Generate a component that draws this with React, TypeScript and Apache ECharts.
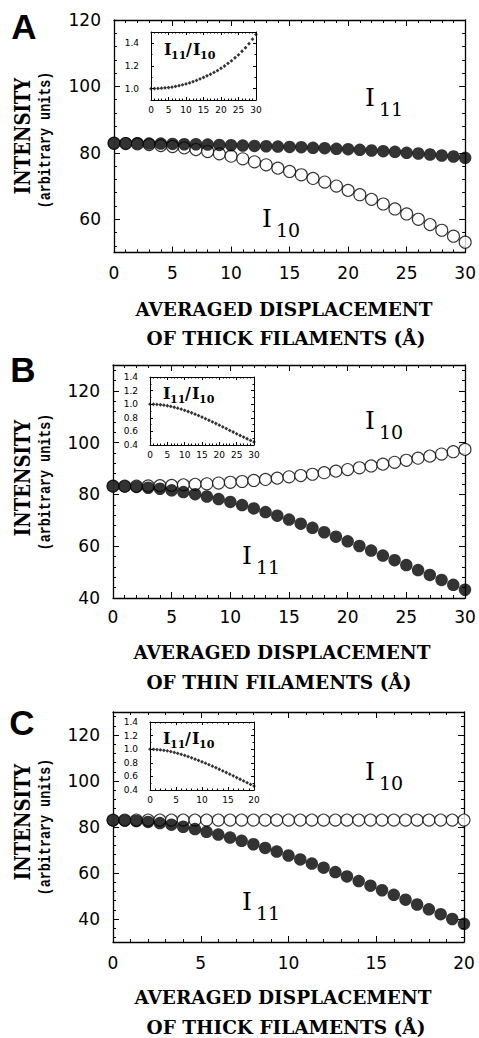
import React, { useEffect, useRef } from "react";
import * as echarts from "echarts";

// ---------- data ----------
const xThirty = [0, 1, 2, 3, 4, 5, 6, 7, 8, 9, 10, 11, 12, 13, 14, 15, 16, 17, 18, 19, 20, 21, 22, 23, 24, 25, 26, 27, 28, 29, 30];
const xTwenty = [0, 0.67, 1.33, 2, 2.67, 3.33, 4, 4.67, 5.33, 6, 6.67, 7.33, 8, 8.67, 9.33, 10, 10.67, 11.33, 12, 12.67, 13.33, 14, 14.67, 15.33, 16, 16.67, 17.33, 18, 18.67, 19.33, 20];

// Panel A: thick filament displacement
const aI11 = [82.9, 82.9, 82.9, 82.8, 82.8, 82.7, 82.6, 82.6, 82.5, 82.4, 82.3, 82.2, 82.1, 82.0, 81.9, 81.8, 81.7, 81.5, 81.4, 81.2, 81.1, 80.9, 80.7, 80.5, 80.3, 80.0, 79.8, 79.5, 79.2, 78.9, 78.5];
const aI10 = [82.9, 82.8, 82.7, 82.5, 82.2, 81.9, 81.5, 81.0, 80.4, 79.7, 79.0, 78.2, 77.3, 76.4, 75.4, 74.4, 73.4, 72.3, 71.2, 70.0, 68.7, 67.4, 66.0, 64.6, 63.1, 61.6, 60.0, 58.4, 56.7, 54.9, 53.1];
const aRatio = [1.0, 1.001, 1.002, 1.004, 1.007, 1.01, 1.013, 1.02, 1.026, 1.034, 1.042, 1.051, 1.062, 1.073, 1.086, 1.099, 1.113, 1.127, 1.143, 1.16, 1.18, 1.2, 1.223, 1.246, 1.273, 1.299, 1.33, 1.361, 1.397, 1.437, 1.478];

// Panel B: thin filament displacement
const bI11 = [83.2, 83.1, 82.9, 82.6, 82.2, 81.6, 80.9, 80.1, 79.2, 78.2, 77.1, 75.9, 74.6, 73.2, 71.8, 70.3, 68.7, 67.1, 65.4, 63.7, 61.9, 60.1, 58.3, 56.4, 54.6, 52.7, 50.8, 48.9, 47.0, 45.1, 43.2];
const bI10 = [83.2, 83.2, 83.2, 83.3, 83.4, 83.5, 83.7, 83.9, 84.1, 84.4, 84.7, 85.0, 85.4, 85.8, 86.3, 86.8, 87.3, 87.8, 88.4, 89.0, 89.6, 90.3, 91.0, 91.7, 92.4, 93.2, 94.0, 94.8, 95.6, 96.5, 97.4];
const bRatio = [1.0, 0.999, 0.996, 0.992, 0.986, 0.977, 0.967, 0.955, 0.942, 0.927, 0.91, 0.893, 0.874, 0.853, 0.832, 0.81, 0.787, 0.764, 0.74, 0.716, 0.691, 0.666, 0.641, 0.615, 0.591, 0.565, 0.54, 0.516, 0.492, 0.467, 0.444];

// Panel C: thick filament displacement (0-20)
const cI11 = [82.9, 82.8, 82.6, 82.2, 81.7, 81.0, 80.1, 79.1, 77.9, 76.7, 75.4, 74.0, 72.5, 70.9, 69.3, 67.6, 65.9, 64.1, 62.3, 60.4, 58.5, 56.5, 54.5, 52.5, 50.5, 48.4, 46.3, 44.2, 42.1, 40.0, 37.9];
const cI10 = [83.0, 83.0, 83.0, 83.0, 83.0, 83.0, 83.0, 83.0, 83.0, 83.0, 83.0, 83.0, 83.0, 83.0, 83.0, 83.0, 83.0, 83.0, 83.0, 83.0, 83.0, 83.0, 83.0, 83.0, 83.0, 83.0, 83.0, 83.0, 83.0, 83.0, 83.0];
const cRatio = [1.0, 0.998, 0.995, 0.99, 0.984, 0.976, 0.965, 0.953, 0.939, 0.924, 0.908, 0.892, 0.873, 0.854, 0.835, 0.814, 0.794, 0.772, 0.751, 0.728, 0.705, 0.681, 0.657, 0.633, 0.608, 0.583, 0.558, 0.533, 0.507, 0.482, 0.457];

// tick values
const yMajorA = [60, 80, 100, 120];
const yMinorA = [52, 56, 64, 68, 72, 76, 84, 88, 92, 96, 104, 108, 112, 116];
const yMajorBC = [40, 60, 80, 100, 120];
const yMinorB = [44, 48, 52, 56, 64, 68, 72, 76, 84, 88, 92, 96, 104, 108, 112, 116, 124, 128];
const yMinorC = [32, 36, 44, 48, 52, 56, 64, 68, 72, 76, 84, 88, 92, 96, 104, 108, 112, 116, 124, 128];
const insetMajorA = [1.0, 1.2, 1.4];
const insetMinorA = [1.1, 1.3];
const insetMajorBC = [0.4, 0.6, 0.8, 1.0, 1.2, 1.4];
const insetMinorBC = [0.5, 0.7, 0.9, 1.1, 1.3];

const titleLine1 = "AVERAGED DISPLACEMENT";
const titleLine2A = "OF THICK FILAMENTS (Å)";
const titleLine2B = "OF THIN FILAMENTS (Å)";
const titleLine2C = "OF THICK FILAMENTS (Å)";

const BLACK = "#000";

export default function App() {
  const ref = useRef<HTMLDivElement>(null);
  useEffect(() => {
    if (!ref.current) return;
    const chart = echarts.init(ref.current, undefined, { renderer: "svg" });

    const grids: any[] = [];
    const xAxes: any[] = [];
    const yAxes: any[] = [];
    const series: any[] = [];
    const elements: any[] = [];

    const addGrid = (g: any) => {
      grids.push({ ...g, containLabel: false, show: false });
      return grids.length - 1;
    };

    const addX = (gi: number, max: number, main: boolean, margin: number) => {
      const mk = (pos: string, showLabel: boolean) => ({
        type: "value",
        gridIndex: gi,
        min: 0,
        max,
        interval: 5,
        position: pos,
        axisLine: { show: true, onZero: false, lineStyle: { color: BLACK, width: main ? 1.3 : 1 } },
        axisTick: { show: true, inside: true, length: main ? 6 : 3, lineStyle: { color: BLACK, width: 1 } },
        minorTick: { show: true, splitNumber: 5, length: main ? 3 : 1.5, lineStyle: { color: BLACK, width: 1 } },
        axisLabel: {
          show: showLabel,
          margin,
          color: BLACK,
          fontFamily: "DejaVu Sans",
          fontSize: main ? 17 : 9,
          formatter: (v: number) => String(v),
        },
        splitLine: { show: false },
        minorSplitLine: { show: false },
      });
      const idx = xAxes.length;
      xAxes.push(mk("bottom", true), mk("top", false));
      return idx;
    };

    const addY = (
      gi: number,
      min: number,
      max: number,
      major: number[],
      minor: number[],
      main: boolean,
      fmt: (v: number) => string,
      margin: number
    ) => {
      const mk = (pos: string, vals: number[], len: number, showLabel: boolean, showLine: boolean) => ({
        type: "value",
        gridIndex: gi,
        min,
        max,
        position: pos,
        axisLine: { show: showLine, onZero: false, lineStyle: { color: BLACK, width: main ? 1.3 : 1 } },
        axisTick: { show: true, inside: true, length: len, customValues: vals, lineStyle: { color: BLACK, width: 1 } },
        axisLabel: {
          show: showLabel,
          customValues: major,
          margin,
          color: BLACK,
          fontFamily: "DejaVu Sans",
          fontSize: main ? 17 : 9,
          formatter: fmt,
        },
        splitLine: { show: false },
      });
      const idx = yAxes.length;
      const ml = main ? 6 : 3;
      const nl = main ? 3 : 1.5;
      yAxes.push(
        mk("left", major, ml, true, true),
        mk("right", major, ml, false, true),
        mk("left", minor, nl, false, false),
        mk("right", minor, nl, false, false)
      );
      return idx;
    };

    const zip = (xs: number[], ys: number[]) => xs.map((x, i) => [x, ys[i]]);

    const addOpen = (xi: number, yi: number, xs: number[], ys: number[]) =>
      series.push({
        type: "scatter",
        xAxisIndex: xi,
        yAxisIndex: yi,
        data: zip(xs, ys),
        symbol: "circle",
        symbolSize: 12,
        itemStyle: { color: "#fff", borderColor: BLACK, borderWidth: 1.1 },
        silent: true,
        z: 3,
      });
    const addFilled = (xi: number, yi: number, xs: number[], ys: number[]) =>
      series.push({
        type: "scatter",
        xAxisIndex: xi,
        yAxisIndex: yi,
        data: zip(xs, ys),
        symbol: "circle",
        symbolSize: 12.5,
        itemStyle: { color: BLACK },
        silent: true,
        z: 4,
      });
    const addRatio = (xi: number, yi: number, xs: number[], ys: number[]) =>
      series.push({
        type: "scatter",
        xAxisIndex: xi,
        yAxisIndex: yi,
        data: zip(xs, ys),
        symbol: "diamond",
        symbolSize: 3.8,
        itemStyle: { color: BLACK },
        silent: true,
        z: 5,
      });

    const txt = (text: string, x: number, y: number, o: any) => ({
      type: "text",
      x,
      y,
      rotation: o.rot || 0,
      scaleX: o.sx || 1,
      silent: true,
      z: 10,
      style: {
        text,
        fontFamily: o.ff,
        fontSize: o.fs,
        fontWeight: o.fw || "normal",
        fill: BLACK,
        align: o.align || "center",
        verticalAlign: "middle",
      },
    });

    const mainLabel = (x: number, y: number, sub: string) => {
      elements.push(txt("I", x - 1, y, { ff: "DejaVu Serif", fs: 25, align: "left" }));
      elements.push(txt(sub, x + 13, y + 12, { ff: "DejaVu Serif", fs: 19, align: "left" }));
    };
    const insetLabel = (x: number, y: number) => {
      const b = { ff: "DejaVu Serif", fw: "bold", align: "left" };
      elements.push(txt("I", x, y, { ...b, fs: 16 }));
      elements.push(txt("11", x + 7, y + 6, { ...b, fs: 11 }));
      elements.push(txt("/", x + 22, y, { ...b, fs: 16 }));
      elements.push(txt("I", x + 29, y, { ...b, fs: 16 }));
      elements.push(txt("10", x + 36, y + 6, { ...b, fs: 11 }));
    };

    const panels = [
      {
        letter: "A",
        letterPos: [24, 26],
        main: { left: 114, top: 20, width: 352, height: 232.5 },
        inset: { left: 151, top: 32, width: 105, height: 68 },
        xMax: 30,
        yMin: 50,
        yMax: 120,
        yMajor: yMajorA,
        yMinor: yMinorA,
        iMin: 0.9,
        iMax: 1.5,
        iMajor: insetMajorA,
        iMinor: insetMinorA,
        xs: xThirty,
        open: aI10,
        filled: aI11,
        ratio: aRatio,
        xMargin: 12,
        line2: titleLine2A,
        titleY: [309, 338],
        titleX: [284, 286],
        yTitleY: [136, 140],
        lab11: [366, 97],
        lab10: [263, 218],
        insetLab: [164, 49],
      },
      {
        letter: "B",
        letterPos: [23, 369],
        main: { left: 113, top: 365, width: 352, height: 233 },
        inset: { left: 150, top: 377, width: 104, height: 68 },
        xMax: 30,
        yMin: 40,
        yMax: 130,
        yMajor: yMajorBC,
        yMinor: yMinorB,
        iMin: 0.4,
        iMax: 1.4,
        iMajor: insetMajorBC,
        iMinor: insetMinorBC,
        xs: xThirty,
        open: bI10,
        filled: bI11,
        ratio: bRatio,
        xMargin: 10,
        line2: titleLine2B,
        titleY: [652, 682],
        titleX: [282, 279],
        yTitleY: [478, 482],
        lab11: [243, 555],
        lab10: [366, 420],
        insetLab: [163, 393],
      },
      {
        letter: "C",
        letterPos: [22, 722],
        main: { left: 113, top: 712, width: 351, height: 230 },
        inset: { left: 150, top: 722, width: 104, height: 68 },
        xMax: 20,
        yMin: 30,
        yMax: 130,
        yMajor: yMajorBC,
        yMinor: yMinorC,
        iMin: 0.4,
        iMax: 1.4,
        iMajor: insetMajorBC,
        iMinor: insetMinorBC,
        xs: xTwenty,
        open: cI10,
        filled: cI11,
        ratio: cRatio,
        xMargin: 12,
        line2: titleLine2C,
        titleY: [997, 1027],
        titleX: [283, 286],
        yTitleY: [822, 827],
        lab11: [243, 901],
        lab10: [366, 771],
        insetLab: [163, 738],
      },
    ];

    panels.forEach((p) => {
      const gm = addGrid(p.main);
      const xm = addX(gm, p.xMax, true, p.xMargin);
      const ym = addY(gm, p.yMin, p.yMax, p.yMajor, p.yMinor, true, (v: number) => String(v), 13);
      addOpen(xm, ym, p.xs, p.open);
      addFilled(xm, ym, p.xs, p.filled);

      const gi = addGrid(p.inset);
      const xi = addX(gi, p.xMax, false, 5);
      const yi = addY(gi, p.iMin, p.iMax, p.iMajor, p.iMinor, false, (v: number) => v.toFixed(1), 12);
      addRatio(xi, yi, p.xs, p.ratio);

      elements.push(txt(p.letter, p.letterPos[0], p.letterPos[1], { ff: "Liberation Sans", fs: 35, fw: "bold" }));
      elements.push(txt(titleLine1, p.titleX[0], p.titleY[0], { ff: "DejaVu Serif", fs: 18.5, fw: "bold" }));
      elements.push(txt(p.line2, p.titleX[1], p.titleY[1], { ff: "DejaVu Serif", fs: 18.5, fw: "bold" }));
      elements.push(txt("INTENSITY", 22, p.yTitleY[0], { ff: "DejaVu Serif", fs: 22, fw: "bold", rot: Math.PI / 2, sx: 0.82 }));
      elements.push(
        txt("(arbitrary units)", 46, p.yTitleY[1], { ff: "Liberation Mono", fs: 17, fw: "bold", rot: Math.PI / 2, sx: 0.79 })
      );
      mainLabel(p.lab11[0], p.lab11[1], "11");
      mainLabel(p.lab10[0], p.lab10[1], "10");
      insetLabel(p.insetLab[0], p.insetLab[1]);
    });

    chart.setOption({
      animation: false,
      backgroundColor: "#fff",
      grid: grids,
      xAxis: xAxes,
      yAxis: yAxes,
      series,
      graphic: { elements },
    });

    return () => chart.dispose();
  }, []);

  return <div ref={ref} style={{ position: "absolute", left: 0, top: 0, width: 479, height: 1038, background: "#fff" }} />;
}
